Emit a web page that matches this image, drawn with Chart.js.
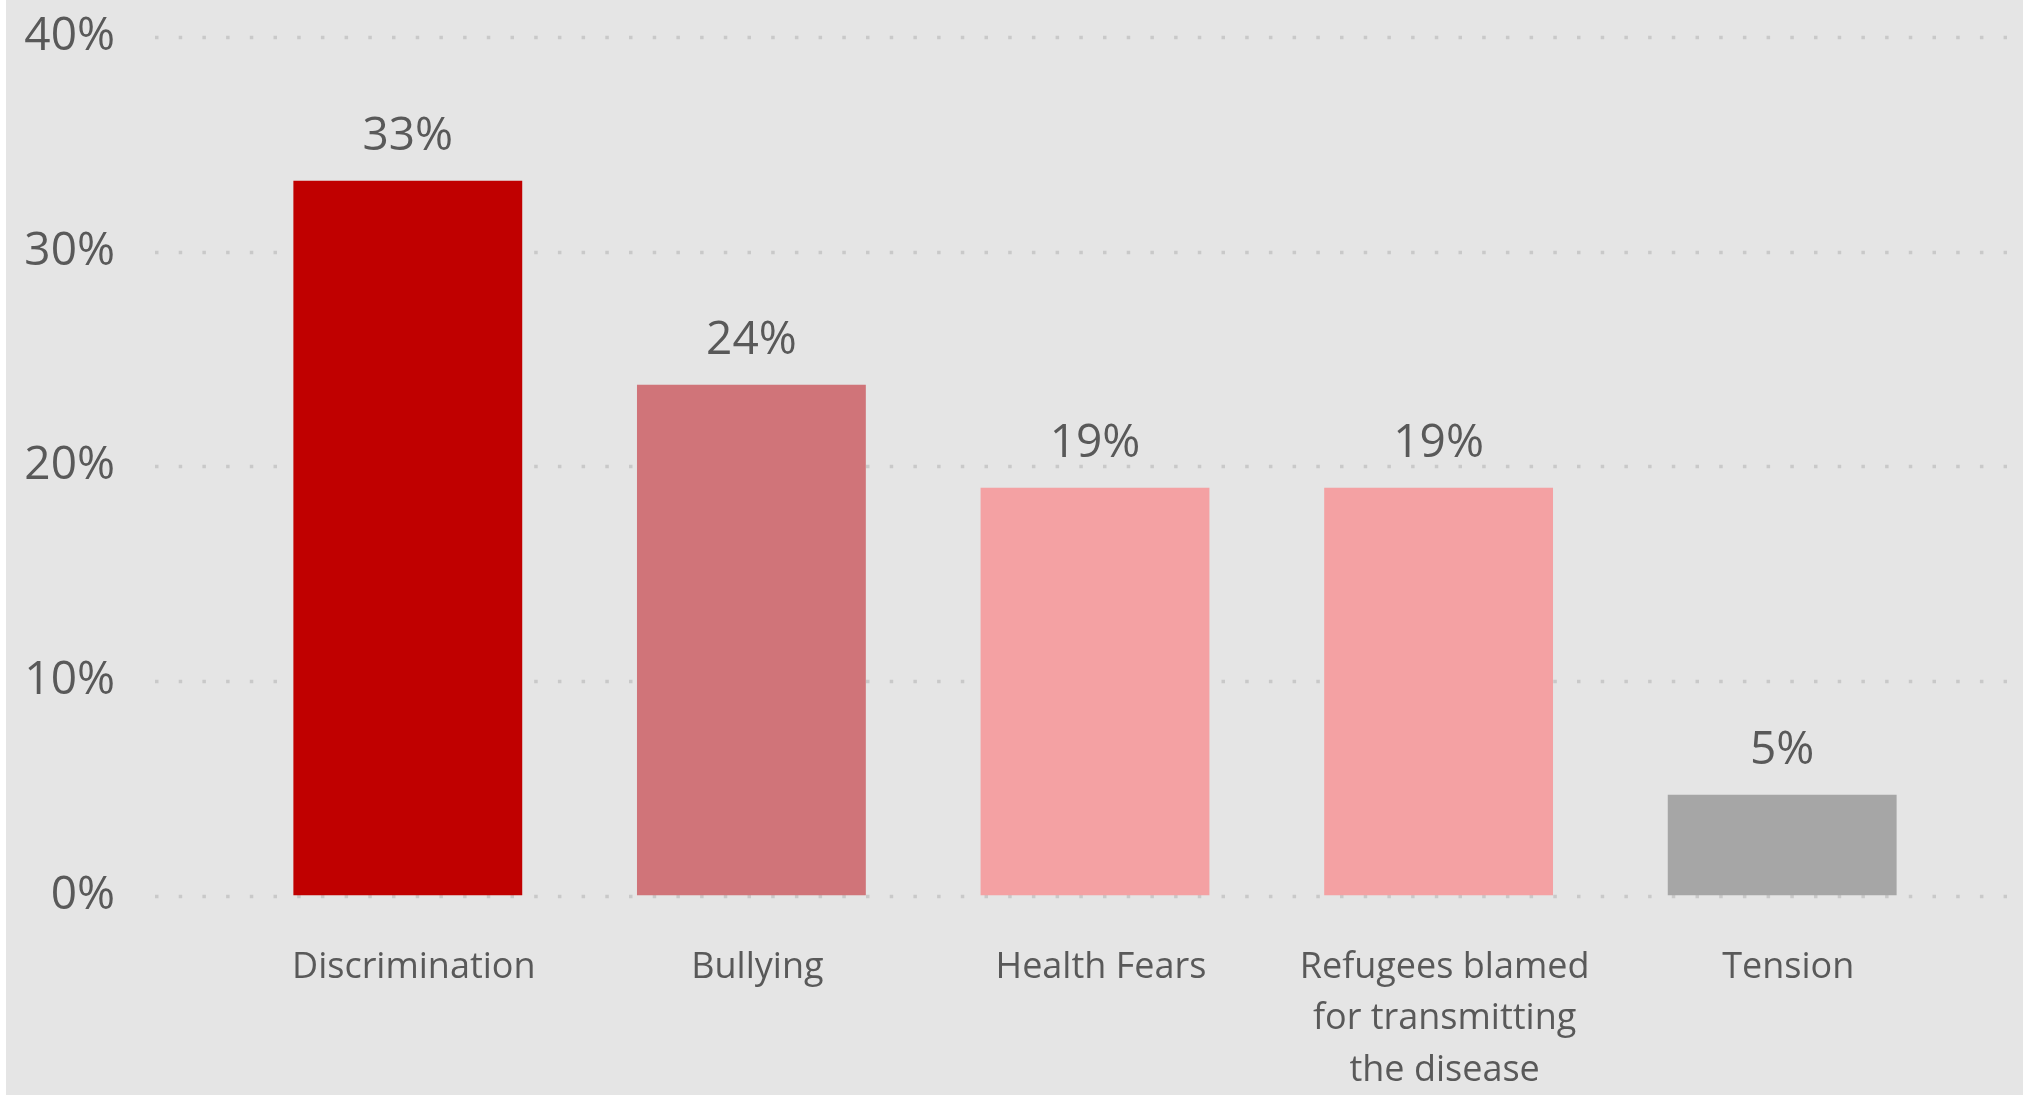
<!DOCTYPE html>
<html>
<head>
<meta charset="utf-8">
<script src="https://cdn.jsdelivr.net/npm/chart.js@4"></script>
<style>
	html, body { margin: 0; padding: 0; background: #ffffff; }
	#chartBox { position: absolute; left: 0; top: 0; width: 2023px; height: 1095px; }
</style>
</head>
<body>
<div id="chartBox"><canvas id="myChart"></canvas></div>
<script>
// categorias e valores (%)
var categorias = ["Discrimination", "Bullying", "Health Fears", ["Refugees blamed", "for transmitting", "the disease"], "Tension"];
var valores = [33.3, 23.8, 19.0, 19.0, 4.7];
var cores = ["#c00000", "#d07479", "#f4a1a3", "#f4a1a3", "#a6a6a6"];
var ticksY = [0, 10, 20, 30, 40];

var corTexto = "#595959";
var fonte = "'Open Sans', sans-serif";

// fundo cinza (faixa branca fina na esquerda)
var fundo = {
	id: 'fundo',
	beforeDraw: function (chart) {
		var ctx = chart.ctx;
		ctx.save();
		ctx.fillStyle = "#e5e5e5";
		ctx.fillRect(6, 0, chart.width - 6, chart.height);
		ctx.restore();
	}
};

// linhas pontilhadas mais largas que a area do grafico
var grade = {
	id: 'grade',
	beforeDatasetsDraw: function (chart) {
		var ctx = chart.ctx;
		var y = chart.scales.y;
		ctx.save();
		ctx.strokeStyle = "#c9c9c9";
		ctx.lineWidth = 3.5;
		ctx.setLineDash([3.5, 20.2]);
		for (var i = 0; i < ticksY.length; i++) {
			var py = Math.round(y.getPixelForValue(ticksY[i])) + 0.5;
			ctx.beginPath();
			ctx.moveTo(155, py);
			ctx.lineTo(2007, py);
			ctx.stroke();
		}
		ctx.restore();
	}
};

// rotulos em cima das barras
var rotulos = {
	id: 'rotulos',
	afterDatasetsDraw: function (chart) {
		var ctx = chart.ctx;
		var barras = chart.getDatasetMeta(0).data;
		ctx.save();
		ctx.font = "46px " + fonte;
		ctx.fillStyle = corTexto;
		ctx.textAlign = "center";
		ctx.textBaseline = "alphabetic";
		for (var i = 0; i < barras.length; i++) {
			ctx.fillText(Math.round(valores[i]) + "%", barras[i].x, barras[i].y - 31);
		}
		ctx.restore();
	}
};

var ctx = document.getElementById("myChart").getContext('2d');
var myChart = new Chart(ctx, {
	type: 'bar',
	data: {
		labels: categorias,
		datasets: [{
			data: valores,
			backgroundColor: cores,
			borderWidth: 0,
			categoryPercentage: 1,
			barPercentage: 0.666
		}]
	},
	options: {
		responsive: true,
		maintainAspectRatio: false,
		animation: false,
		layout: { padding: { left: 0, right: 69, top: 37, bottom: 0 } },
		plugins: {
			legend: { display: false },
			tooltip: { enabled: false }
		},
		scales: {
			x: {
				grid: { display: false, drawTicks: false },
				border: { display: false },
				ticks: {
					color: corTexto,
					font: { family: fonte, size: 36, lineHeight: 1.436 },
					padding: 46,
					labelOffset: 6,
					maxRotation: 0,
					autoSkip: false
				},
				afterFit: function (s) { s.height = 199.5; }
			},
			y: {
				min: 0,
				max: 40,
				grid: { display: false, drawTicks: false },
				border: { display: false },
				ticks: {
					stepSize: 10,
					color: corTexto,
					font: { family: fonte, size: 46 },
					padding: 121,
					callback: function (v) { return v + "%"; }
				},
				afterFit: function (s) {
					// o padding dos ticks nao deve empurrar a area para baixo
					s.width = 236;
					s.paddingTop = 0;
					s.paddingBottom = 0;
				}
			}
		}
	},
	plugins: [fundo, grade, rotulos]
});
</script>
</body>
</html>
